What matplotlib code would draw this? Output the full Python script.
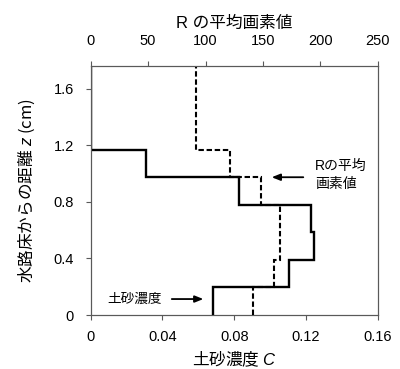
import numpy as np
import matplotlib
matplotlib.use("Agg")
import matplotlib.pyplot as plt

plt.rcParams['font.family'] = ['Liberation Sans', 'Noto Sans CJK JP', 'DejaVu Sans']
plt.rcParams['font.size'] = 10
plt.rcParams['mathtext.fontset'] = 'custom'
plt.rcParams['mathtext.rm'] = 'Liberation Sans'
plt.rcParams['mathtext.it'] = 'Liberation Sans:italic'

# Data
z_edges = [0, 0.195, 0.39, 0.585, 0.78, 0.975, 1.17, 1.365, 1.56, 1.755]
conc_C = [0.068, 0.1107, 0.1247, 0.1228, 0.0827, 0.0307, 0.0, 0.0, 0.0]
mean_R = [141.7, 159.7, 165.0, 164.5, 148.1, 121.1, 91.5, 91.5, 91.5]

c_ticks = [0, 0.04, 0.08, 0.12, 0.16]
c_ticklabels = ['0', '0.04', '0.08', '0.12', '0.16']
r_ticks = [0, 50, 100, 150, 200, 250]
z_ticks = [0, 0.4, 0.8, 1.2, 1.6]
z_ticklabels = ['0', '0.4', '0.8', '1.2', '1.6']

spine_c = '#595959'
jp = 'Noto Sans CJK JP'

fig = plt.figure(figsize=(4.0, 3.69), dpi=100)
ax = fig.add_axes([0.2268, 0.1463, 0.9443 - 0.2268, 0.8211 - 0.1463])
ax2 = ax.twiny()

ax.stairs(conc_C, z_edges, orientation='horizontal', baseline=None,
          color='black', lw=1.7, zorder=3)
ax2.stairs(mean_R, z_edges, orientation='horizontal', baseline=None,
           color='black', lw=1.5, linestyle=(0, (2.6, 1.3)), zorder=3)

ax.set_xlim(0, 0.16)
ax2.set_xlim(0, 250)
ax.set_ylim(0, 1.762)

ax.set_xticks(c_ticks)
ax.set_xticklabels(c_ticklabels)
ax.set_yticks(z_ticks)
ax.set_yticklabels(z_ticklabels)
ax2.set_xticks(r_ticks)

for a in (ax, ax2):
    for s in a.spines.values():
        s.set_color(spine_c)
        s.set_linewidth(0.8)
    a.tick_params(direction='out', length=3.6, width=0.8, color=spine_c,
                  labelsize=10.5, labelcolor='black')
ax.tick_params(axis='x', pad=7.5)
ax.tick_params(axis='y', pad=8.5)
ax2.tick_params(axis='x', pad=9.5)

ax.set_xlabel('土砂濃度 $\\mathit{C}$', fontsize=12, labelpad=3.5, family=jp)
ax.set_ylabel('水路床からの距離 $\\mathit{z}$ (cm)', fontsize=12, labelpad=12, family=jp)
ax2.set_xlabel('R の平均画素値', fontsize=12, labelpad=4)

ax.annotate('', xy=(0.1009, 0.975), xytext=(0.1185, 0.975),
            arrowprops=dict(arrowstyle='-|>,head_length=0.5,head_width=0.2',
                            color='black', lw=1.3, shrinkA=0, shrinkB=0))
ax.text(0.125, 0.99, 'Rの平均\n画素値', fontsize=10, ha='left', va='center',
        linespacing=1.35)

ax.annotate('', xy=(0.0628, 0.113), xytext=(0.0452, 0.113),
            arrowprops=dict(arrowstyle='-|>,head_length=0.5,head_width=0.2',
                            color='black', lw=1.3, shrinkA=0, shrinkB=0))
ax.text(0.0396, 0.113, '土砂濃度', fontsize=9.8, ha='right', va='center')

fig.savefig('out.png', dpi=100)
